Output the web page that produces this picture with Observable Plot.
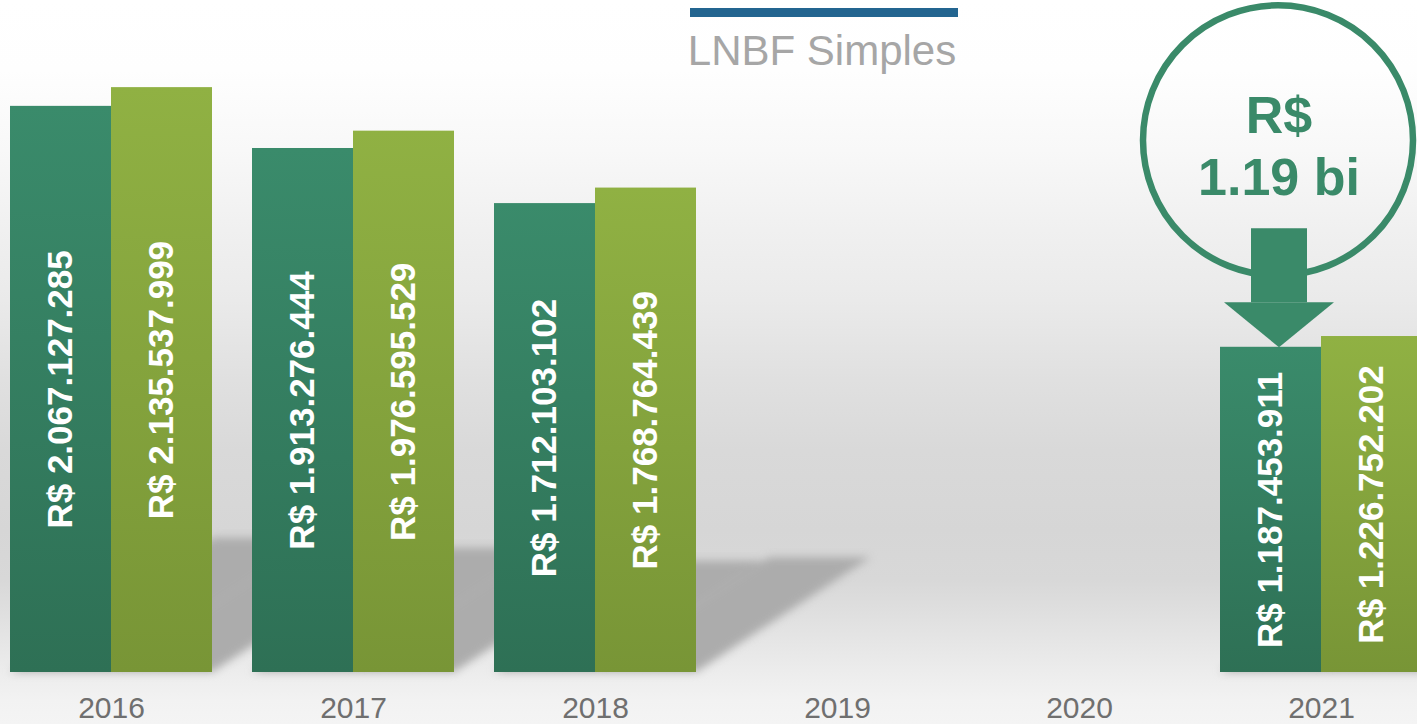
<!DOCTYPE html>
<html>
<head>
<meta charset="utf-8">
<script src="https://cdn.jsdelivr.net/npm/d3@7"></script>
<script src="https://cdn.jsdelivr.net/npm/@observablehq/plot@0.6"></script>
<style>
  html, body { margin: 0; padding: 0; }
  body {
    width: 1417px; height: 724px; overflow: hidden;
    font-family: "Liberation Sans", Arial, sans-serif;
    background: linear-gradient(to bottom,
      #ffffff 0px, #fefefe 70px, #f8f8f8 150px, #f0f0f0 230px, #eaeaea 300px,
      #e0e0e0 380px, #d9d9d9 450px, #d6d6d6 530px, #d8d8d8 580px, #e3e3e3 630px,
      #ececec 670px, #f2f2f2 700px, #f4f4f4 724px);
  }
  #wrap { position: relative; width: 1417px; height: 724px; overflow: hidden; }
  #chart { position: absolute; left: -10px; top: 0; }
  #legend-line { position: absolute; left: 690px; top: 8px; width: 268px; height: 9px; }
  #legend-text { position: absolute; left: 622px; top: 29.5px; width: 400px; text-align: center;
    font-size: 42px; line-height: 42px; color: #a6a6a6; white-space: nowrap; }
</style>
</head>
<body>
<svg width="0" height="0" style="position:absolute">
  <defs>
    <linearGradient id="gradA" x1="0" y1="0" x2="0" y2="1">
      <stop offset="0" stop-color="#3a8b6b"/>
      <stop offset="1" stop-color="#2e7055"/>
    </linearGradient>
    <linearGradient id="gradB" x1="0" y1="0" x2="0" y2="1">
      <stop offset="0" stop-color="#90b143"/>
      <stop offset="1" stop-color="#789536"/>
    </linearGradient>
  </defs>
</svg>
<div id="wrap">
  <div id="chart"></div>
  <div id="legend-line"></div>
  <div id="legend-text"></div>
</div>
<script>
// ---- data ----
const years = ["2016", "2017", "2018", "2019", "2020", "2021"];
const seriesNames = ["Série 1", "Série 2"];
const valuesA = [2067127285, 1913276444, 1712103102, null, null, 1187453911];
const valuesB = [2135537999, 1976595529, 1768764439, null, null, 1226752202];

const legendLabel = "LNBF Simples";
const legendColor = "#236590";

const calloutYear = "2021";
const calloutLabel = "R$\n1.19 bi";
const calloutCenter = 1.943e9;   // circle centre (value units)
const calloutTextY = 1.928e9;
const arrowTop = 1.62e9;
const arrowBase = 1.35e9;

const green = "#3a8a69";

// ---- build ----
document.getElementById("legend-line").style.background = legendColor;
document.getElementById("legend-text").textContent = legendLabel;

const rows = years.flatMap((year, i) => [
  {year, series: seriesNames[0], value: valuesA[i]},
  {year, series: seriesNames[1], value: valuesB[i]}
]);

const locale = d3.formatLocale({decimal: ",", thousands: ".", grouping: [3], currency: ["R$ ", ""]});
const fmt = locale.format("$,.0f");

const callout = [{year: calloutYear, series: seriesNames[0],
  center: calloutCenter, textY: calloutTextY, top: arrowTop, base: arrowBase,
  tip: valuesA[years.indexOf(calloutYear)]}];

const headSymbol = {
  draw(ctx, size) {
    const r = Math.sqrt(size / Math.PI);
    ctx.moveTo(0, 0);
    ctx.lineTo(-r, -0.82 * r);
    ctx.lineTo(r, -0.82 * r);
    ctx.closePath();
  }
};

const shadowRender = (index, scales, values) => {
  const g = d3.create("svg:g").style("filter", "blur(4px)");
  const bw = scales.x.bandwidth();
  for (const i of index) {
    const x0 = values.x[i], b = values.y1[i], t = values.y2[i];
    if (!(isFinite(x0) && isFinite(b) && isFinite(t))) continue;
    const h = b - t, sx = 0.36 * h, sy = 0.237 * h;
    g.append("path")
      .attr("d", `M${x0},${b}L${x0 + bw},${b}L${x0 + bw + sx},${b - sy}L${x0 + sx},${b - sy}Z`)
      .attr("fill", "#acacac");
  }
  return g.node();
};

const valid = rows.filter(d => d.value != null);

const chart = Plot.plot({
  width: 1452,
  height: 724,
  marginTop: 1,
  marginBottom: 52,
  marginLeft: 0,
  marginRight: 0,
  style: {background: "transparent", maxWidth: "none", overflow: "visible",
          fontFamily: "Liberation Sans, Arial, sans-serif"},
  fx: {domain: years, paddingInner: 0.165, paddingOuter: 0.0825, axis: null, label: null},
  x: {domain: seriesNames, padding: 0, axis: null},
  y: {domain: [0, 2.45e9], axis: null},
  marks: [
    Plot.barY(valid, {fx: "year", x: "series", y: "value", render: shadowRender}),
    Plot.barY(valid.filter(d => d.series === seriesNames[0]), {fx: "year", x: "series", y: "value", fill: "url(#gradA)"}),
    Plot.barY(valid.filter(d => d.series === seriesNames[1]), {fx: "year", x: "series", y: "value", fill: "url(#gradB)"}),
    Plot.text(valid, Plot.stackY({fx: "year", x: "series", y: "value",
      text: d => fmt(d.value), rotate: -90, fill: "white", fontWeight: "bold", fontSize: 35})),
    Plot.dot(callout, {fx: "year", x: "series", y: "center", r: 135, fill: "none",
      stroke: green, strokeWidth: 6.5, dx: 7}),
    Plot.text(callout, {fx: "year", x: "series", y: "textY", text: () => calloutLabel,
      fontSize: 52, fontWeight: "bold", fill: green, lineHeight: 1.19, dx: 8}),
    Plot.ruleX(callout, {fx: "year", x: "series", y1: "top", y2: "base",
      stroke: green, strokeWidth: 56, dx: 8}),
    Plot.dot(callout, {fx: "year", x: "series", y: "tip", r: 55, symbol: headSymbol,
      fill: green, stroke: null, dx: 8}),
    Plot.axisFx({anchor: "bottom", tickSize: 0, tickPadding: 24, fontSize: 30,
      color: "#6f6f6f", label: null})
  ]
});
document.getElementById("chart").appendChild(chart);
</script>
</body>
</html>
